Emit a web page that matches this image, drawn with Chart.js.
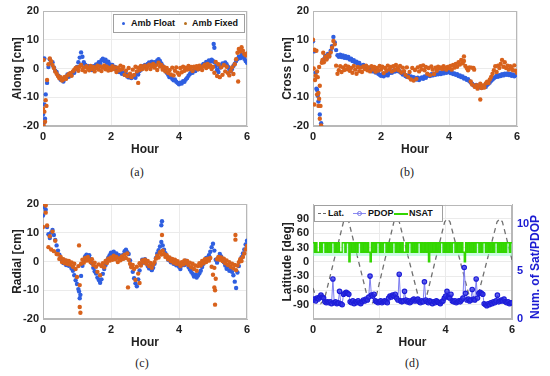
<!DOCTYPE html>
<html>
<head>
<meta charset="utf-8">
<script src="https://cdn.jsdelivr.net/npm/chart.js@4.4.0/dist/chart.umd.min.js"></script>
<style>
  body { margin: 0; background: #fff; width: 550px; height: 376px; position: relative; overflow: hidden; font-family: "Liberation Sans", Arial, sans-serif; }
  canvas { position: absolute; }
  .cap { position: absolute; font-family: "Liberation Serif", serif; font-size: 12px; color: #222; transform: translateX(-50%); }
  .leg { position: absolute; background: #fff; border: 1px solid #a0a0a0; font-weight: bold; font-size: 9px; color: #111; }
  .leg span { position: absolute; }
  .rtitle { position: absolute; font-weight: bold; font-size: 12px; color: #1a1ad2; white-space: nowrap; transform: translate(-50%, -50%) rotate(-90deg); }
</style>
</head>
<body>
<canvas id="chartA" width="270" height="161" style="left:0;top:0"></canvas>
<canvas id="chartB" width="280" height="161" style="left:270px;top:0"></canvas>
<canvas id="chartC" width="270" height="161" style="left:0;top:193px"></canvas>
<canvas id="chartD" width="280" height="161" style="left:270px;top:193px"></canvas>

<div class="leg" style="left:113px;top:14px;width:130px;height:17px;line-height:17px">
  <span style="left:8px;top:7px;width:3px;height:3px;border-radius:50%;background:#2f5fe0"></span>
  <span style="left:17px;top:0">Amb Float</span>
  <span style="left:70px;top:7px;width:3px;height:3px;border-radius:50%;background:#b8701e"></span>
  <span style="left:78px;top:0">Amb Fixed</span>
</div>

<div class="leg" style="left:314px;top:205px;width:127px;height:15px;line-height:15px">
  <span style="left:3px;top:7px;width:3px;height:1px;background:#666"></span>
  <span style="left:8px;top:7px;width:3px;height:1px;background:#666"></span>
  <span style="left:13px;top:0">Lat.</span>
  <span style="left:38px;top:7px;width:13px;height:1px;background:#8a8af2"></span>
  <span style="left:42px;top:5px;width:3px;height:3px;border:1px solid #7a7ae8;border-radius:50%"></span>
  <span style="left:53px;top:0">PDOP</span>
  <span style="left:79px;top:7px;width:14px;height:1.5px;background:#33d600"></span>
  <span style="left:94px;top:0">NSAT</span>
</div>

<div class="rtitle" style="left:535px;top:267px">Num. of Sat/PDOP</div>

<div class="cap" style="left:137px;top:165px">(a)</div>
<div class="cap" style="left:407px;top:165px">(b)</div>
<div class="cap" style="left:142px;top:356px">(c)</div>
<div class="cap" style="left:412px;top:356px">(d)</div>

<script>
// samples every 0.04 h (2.4 min), 0 .. 6 h
var STEP = 0.04;

var alongFloat = [
  -16, -12.5, -9, -5, 0.5, 3.2, 1.8, 2.2, 0.4, -0.8, -1.2, -2.4, -2.8, -3.9, -3.6, -4.5, -3.2, -3.4, -2.1, -2.9, -1.8, -2.3, -1.2, -1.5, -0.3,
  0.5, 2.2, 3.8, 5.6, 4.1, 2.2, 1.3, 0.6, 0.9, -0.2, 0.4, -0.5, 0.8, 0.3, 1.4, 1.1, 2.2, 1.8, 2.9, 3.4, 2.6, 3.1, 2.0, 2.4, 1.5,
  0.8, 1.2, 0.1, 0.5, -0.6, -0.3, -1.2, -0.9, -1.8, -1.4, -2.2, -1.9, -2.8, -3.1, -2.5, -3.3, -2.9, -2.6, -3.2, -1.8, -2.1, -0.9, -0.4, 0.3, 0.9,
  1.2, 0.8, 1.6, 2.1, 1.7, 2.4, 1.9, 2.2, 1.5, 2.8, 3.2, 2.6, 1.8, 0.9, 0.2, -0.8, -1.5, -2.2, -3.0, -2.8, -3.6, -4.1, -3.8, -4.6, -5.0,
  -5.5, -4.9, -5.2, -4.4, -4.6, -3.8, -3.3, -2.5, -1.9, -1.2, -1.5, -0.6, -0.9, 0.2, -0.3, 0.5, 0.3, 1.1, 1.6, 1.2, 2.3, 2.0, 2.8, 2.4, 3.1,
  2.6, 2.2, 0.8, -0.5, -1.2, 0.3, 1.1, 1.8, 1.2, 2.1, 1.5, 0.6, -0.4, -1.0, -0.2, 0.9, 1.7, 2.6, 3.3, 4.1, 3.6, 4.8, 4.2, 3.4, 2.6,
  2.0
];
var alongFixed = [
  -14, -15, -11, -4, 1.5, 3.5, 2.5, 1.2, 0.2, -1.0, -1.8, -2.6, -3.4, -3.0, -4.2, -3.8, -2.9, -3.6, -2.4, -2.0, -1.6, -2.5, -1.0, -0.4, 0.2,
  0.4, -0.8, 0.6, 1.2, -0.5, 0.3, -1.1, 0.8, 0.1, -0.6, 0.9, -0.2, 0.5, -1.0, 0.2, 1.0, -0.4, 0.7, -0.9, 0.3, 1.1, -0.3, 0.6, -0.7, 0.2,
  -0.5, 0.8, -0.2, 0.4, -1.2, 0.3, -0.6, 1.0, -0.3, 0.5, -2.2, -0.8, -2.6, 0.2, -1.8, -3.0, -0.4, -2.2, 0.6, -1.0, 0.3, -0.5, 0.9, -0.2, 0.5,
  1.0, -0.3, 0.6, 1.3, -0.2, 0.8, 1.6, 0.3, 1.1, -0.5, 2.0, 0.7, 1.2, -0.4, 0.5, -1.0, 0.2, -1.6, -0.6, -2.1, 0.3, -2.4, -0.8, 0.4, -1.5,
  -2.2, 0.2, -1.3, 0.6, -0.8, 0.3, -0.4, 0.9, -0.2, 0.5, -0.9, 0.6, 0.1, 0.8, -0.3, 1.0, 0.4, -0.5, 0.8, 1.3, 0.2, 1.6, 0.6, 1.1, -0.2,
  0.5, -1.5, 2.3, -2.6, 1.5, -3.0, 0.4, -2.2, 1.2, -1.0, 0.6, -1.6, -2.4, -0.8, 0.4, -1.9, 1.5, 3.2, 5.5, 6.8, 5.9, 7.4, 6.2, 5.1, 4.6,
  5.2
];
var alongFloatOut = [[0.02, -19], [0.06, -17.5], [0.04, 3.5], [5.02, 8.5], [5.04, 7.2]];
var alongFixedOut = [[0.02, -20], [0.06, -18.5], [0.02, 3.0], [0.10, -13], [2.80, -5], [5.74, -4.5]];

var crossFloat = [
  9.5, 6.0, -1.5, -7.5, -11.5, -16.0, -19.0, 2.5, 3.2, 4.4, 3.6, 5.1, 4.7, 6.2, 7.8, 11.0, 9.1, 6.4, 4.6, 4.1, 4.8, 4.0, 4.5, 3.7, 4.3,
  3.6, 4.0, 3.1, 3.4, 2.6, 2.9, 2.1, 2.4, 1.6, 1.9, 1.1, 0.8, 1.2, 0.4, 0.7, -0.1, 0.3, -0.6, -0.2, -1.0, -0.7, -1.4, -1.1, -1.8, -2.2,
  -2.5, -2.0, -2.7, -2.2, -1.9, -2.4, -1.6, -1.2, -1.5, -0.8, -1.1, -0.4, -0.9, -0.5, -1.2, -1.6, -2.1, -1.8, -2.6, -2.9, -2.4, -3.1, -2.8, -3.3, -3.0,
  -3.4, -3.8, -3.2, -4.0, -3.5, -3.1, -3.6, -2.8, -3.2, -2.5, -2.2, -2.6, -2.0, -2.4, -1.8, -2.2, -1.6, -2.0, -1.4, -1.9, -1.3, -1.7, -1.1, -1.5, -1.2,
  -1.0, -1.6, -1.3, -1.9, -1.7, -2.2, -2.0, -2.6, -2.4, -3.0, -2.8, -3.5, -3.3, -3.9, -3.7, -4.4, -4.9, -5.3, -5.8, -6.1, -5.7, -6.4, -6.0, -6.6, -6.2,
  -6.5, -6.0, -6.4, -5.7, -5.3, -4.9, -4.3, -3.8, -3.4, -3.0, -2.6, -2.9, -2.3, -2.6, -2.0, -2.4, -1.8, -2.2, -1.7, -2.3, -1.9, -2.5, -2.1, -2.7, -2.3,
  -2.0
];
var crossFixed = [
  10.0, 6.5, -2.5, -9.0, -13.0, -17.5, -19.8, 3.0, 2.2, 4.0, 3.1, 4.6, 4.2, 5.6, 7.2, 9.6, 8.4, 1.0, -1.8, -0.6, 0.8, -1.2, 0.4, -0.5, 1.0,
  -0.3, 0.6, -0.8, 0.2, -1.5, 0.9, -0.4, -1.8, 0.5, -0.9, 0.3, -1.2, 0.7, -0.2, 1.0, -0.6, 0.4, -1.0, 0.8, -0.3, 0.5, -1.1, 0.2, -0.7, 0.9,
  -0.4, 0.6, -1.6, 0.2, -0.8, 1.0, -0.3, 0.5, -1.0, 0.8, -0.5, 1.2, 0.1, -0.6, 0.9, -1.4, 0.3, -0.9, -2.2, 0.4, -3.0, -1.2, -3.8, 0.2, -4.2,
  -0.5, -3.6, 0.4, -1.0, 0.8, -0.3, 1.1, -0.6, 0.5, -1.8, 0.2, -2.3, 0.7, -0.4, -1.9, 0.3, -0.8, 0.6, 0.1, 0.4, -0.2, 0.8, 0.3, -0.4, 0.5,
  0.2, 0.9, -0.4, 1.2, 0.3, 1.6, 0.6, 2.2, 1.4, 3.0, 1.8, 2.6, 0.9, 0.2, -0.6, 0.4, -4.5, -5.6, 0.2, -6.4, -5.8, -7.0, -6.1, -5.3, -6.8,
  -5.9, -6.6, -5.2, -4.6, -5.0, -3.8, -2.9, -1.8, -0.6, 0.8, -1.2, 1.0, 0.2, 1.6, 3.0, 0.6, 2.2, 0.2, 1.0, -0.4, 0.8, 0.3, -0.6, 1.1, -0.8,
  -1.5
];
var crossFloatOut = [[0.10, -7], [0.14, -9.5]];
var crossFixedOut = [[0.02, 0], [0.04, -12.5], [0.06, -4], [0.10, 6.2], [0.12, -1], [0.14, -3], [0.16, -8.5], [0.18, 0.5],
  [0.18, -10.5], [0.20, -6], [0.22, -13], [0.26, 2], [0.30, 5.5], [4.44, 4.2], [4.66, 0.3], [4.74, -0.4], [4.92, -10.8]];

var radialFloat = [
  16, 19, 18, 12, 9.5, 8.2, 10.1, 11.0, 9.2, 7.5, 5.6, 3.8, 2.4, 1.1, 0.2, -0.5, 0.4, -1.2, -0.6, -1.5, -0.9, -2.4, -3.2, -4.8, -6.5,
  -7.8, -9.6, -12.8, -5.0, -1.5, 0.6, 1.8, 2.4, 1.6, 2.2, 0.8, -0.6, -2.2, -3.4, -4.2, -5.6, -6.4, -7.4, -6.2, -4.3, -2.6, -1.2, 0.4, 1.3, 2.2,
  3.1, 2.5, 3.4, 1.9, 2.8, 1.4, 2.2, 0.9, 1.6, 2.4, 3.6, 4.1, 3.2, 2.6, 0.4, -1.8, -3.6, -5.8, -7.6, -8.6, -6.2, -3.1, -1.0, 0.6, -0.4,
  0.8, -0.5, -1.6, -2.4, -1.8, -3.0, -2.2, -0.8, 1.2, 2.8, 3.9, 5.2, 6.8, 5.6, 4.1, 2.9, 1.8, 0.6, 1.2, -0.3, 0.5, -0.8, 0.2, -1.3, -0.6,
  -1.8, -2.6, -1.4, -0.6, -1.2, 0.3, -0.8, -1.9, -2.8, -3.6, -4.3, -5.2, -4.6, -5.6, -4.9, -4.1, -3.2, -1.9, -0.8, 0.4, 1.2, 0.6, 2.2, 3.4, 5.0,
  6.2, 3.8, 0.6, -0.4, 1.4, 2.6, 1.8, 0.9, -0.3, -1.4, -2.5, -1.6, -3.2, -2.4, -3.6, -4.8, -7.0, -9.2, -3.8, -1.6, 0.3, 1.5, 2.8, 4.2, 5.9,
  7.2
];
var radialFixed = [
  12, 20, 17, 12.5, 5.0, 8.8, 4.2, 10.4, 3.6, 7.2, 2.6, 2.5, 0.9, 1.6, -0.2, 0.8, -0.6, 0.4, -0.9, 0.2, -1.1, -0.3, -1.8, -0.8, -2.6,
  -5.4, -1.6, -8.2, -0.8, 0.6, -0.4, 1.2, 0.3, 1.6, 0.5, -0.3, 0.8, -1.2, -0.4, -1.8, -3.6, -1.0, -4.8, -1.6, -0.6, -2.0, 0.2, -0.5, 1.0, 0.3,
  1.4, 0.6, 2.0, 0.8, 1.6, -0.2, 1.1, 0.4, 1.8, 0.9, 2.4, 1.2, 2.8, 0.6, -0.8, -2.0, -1.2, -2.6, -6.4, -1.8, -4.2, -0.6, -1.4, 0.4, -0.3,
  0.6, -0.8, 0.2, -1.6, -0.5, -2.2, -1.0, -0.2, 1.0, 2.0, 1.4, 3.2, 2.4, 3.8, 2.6, 1.6, 2.2, 0.8, 1.4, 0.2, 0.9, -0.4, 0.6, -0.8, 0.1,
  -0.9, -1.6, -0.2, -1.0, 0.4, -0.6, 0.2, -1.2, -0.4, -2.0, -0.8, -2.6, -1.4, -3.2, -1.6, -0.6, -1.4, 0.2, -0.6, 0.8, -0.2, 1.0, 0.3, 1.2, -1.8,
  -4.6, -2.2, -6.0, 0.8, 1.6, 0.6, 1.4, 0.2, 1.0, -0.6, 0.4, -1.2, -0.2, -1.8, -0.8, -2.4, -1.2, -3.0, -1.4, -0.2, 0.8, 0.2, 1.6, 2.8, 4.2,
  5.4
];
var radialFloatOut = [[3.50, 14.0], [3.48, 12.6], [1.06, -10.4], [1.10, -11.6]];
var radialFixedOut = [[1.10, -17.8], [1.08, -15.8], [1.06, 5.6], [5.06, -10.0], [5.06, -15.0], [5.04, -9.0],
  [5.66, 9.2], [5.66, 7.6], [2.50, -9.0], [2.84, -7.5], [0.08, 19.5], [3.50, 9.2]];

// panel (d)
var latHours = [0, 0.12, 0.23, 0.34, 0.92, 1.0, 1.08, 1.66, 1.77, 1.88, 2.44, 2.52, 2.6, 3.2, 3.3, 3.4, 3.97, 4.05, 4.13, 4.74, 4.84, 4.94, 5.55, 5.63, 5.71, 6.0];
var latDeg = [-55, -82, -88, -80, 84, 90, 84, -80, -88, -80, 84, 90, 84, -80, -88, -80, 84, 90, 84, -80, -88, -80, 84, 90, 84, 4];

var pdop = [
  2.0, 2.1, 1.9, 2.2, 2.1, 2.3, 2.5, 2.3, 2.2, 1.8, 1.7, 1.8, 1.7, 1.8, 1.6, 4.2, 1.7, 1.8, 1.6, 1.7, 2.9, 1.6, 1.5, 2.6, 2.7,
  2.8, 2.7, 2.6, 1.8, 1.7, 1.9, 1.6, 1.8, 1.7, 1.9, 1.7, 1.6, 1.8, 2.0, 1.9, 2.1, 2.0, 2.3, 4.5, 2.5, 2.4, 2.6, 1.9, 1.8, 1.7,
  1.8, 1.9, 1.7, 1.8, 1.9, 1.8, 1.7, 2.2, 2.4, 2.3, 2.5, 2.4, 2.6, 2.2, 2.0, 4.7, 1.9, 1.8, 1.9, 2.9, 2.0, 1.8, 1.9, 1.7, 1.8,
  2.0, 2.1, 1.9, 2.0, 2.1, 1.8, 1.7, 1.9, 1.8, 3.9, 2.0, 1.8, 1.7, 1.9, 1.8, 1.6, 1.8, 1.7, 1.9, 1.8, 1.7, 1.6, 1.8, 1.9, 2.2,
  2.4, 2.9, 2.3, 2.2, 2.6, 1.9, 1.8, 1.9, 1.7, 1.8, 1.9, 1.8, 2.0, 2.2, 5.4, 2.7, 2.0, 2.1, 1.9, 2.0, 3.1, 2.1, 2.0, 4.2, 2.2,
  2.7, 2.8, 2.7, 2.6, 1.6, 1.5, 1.4, 1.6, 1.5, 1.7, 1.6, 1.8, 1.7, 1.9, 2.5, 1.8, 1.9, 2.0, 1.9, 2.1, 1.8, 1.7, 1.8, 1.6, 1.7,
  1.7
];
var nsat = [
  8, 7, 8, 7, 7, 8, 7, 8, 8, 7, 8, 7, 8, 7, 8, 8, 7, 8, 7, 8, 7, 7, 8, 8, 7,
  8, 8, 6, 8, 7, 8, 7, 8, 7, 8, 8, 7, 8, 7, 8, 7, 8, 7, 6, 8, 7, 8, 7, 8, 8,
  7, 8, 7, 8, 8, 7, 8, 7, 8, 7, 8, 8, 7, 8, 7, 8, 7, 8, 7, 7, 8, 7, 8, 8, 7,
  8, 7, 8, 7, 8, 8, 7, 8, 7, 8, 7, 8, 6, 8, 7, 8, 7, 8, 7, 8, 7, 8, 8, 7, 8,
  7, 8, 7, 8, 7, 8, 8, 7, 8, 7, 8, 7, 8, 7, 6, 8, 7, 8, 7, 8, 7, 8, 7, 8, 8,
  7, 8, 7, 8, 8, 7, 8, 7, 8, 7, 8, 7, 8, 8, 7, 8, 7, 8, 7, 8, 7, 8, 8, 7, 8,
  8
];

var FLOAT_COLOR = '#2f5fe0';
var FIXED_COLOR = '#d8621c';
var tickFont = { family: 'Liberation Sans', size: 11, weight: 'bold' };
var titleFont = { family: 'Liberation Sans', size: 12, weight: 'bold' };

function series(vals, extra) {
  var out = vals.map(function (v, i) { return { x: Math.round(i * STEP * 100) / 100, y: v }; });
  (extra || []).forEach(function (p) { out.push({ x: p[0], y: p[1] }); });
  return out;
}

var frame = {
  id: 'frame',
  beforeDatasetsDraw: function (chart) {
    var a = chart.chartArea, c = chart.ctx;
    c.save();
    c.strokeStyle = '#b8b8b8';
    c.lineWidth = 1;
    c.strokeRect(Math.round(a.left) + 0.5, Math.round(a.top) + 0.5, Math.round(a.right - a.left) - 1, Math.round(a.bottom - a.top) - 1);
    c.restore();
  }
};

function xAxis() {
  return {
    type: 'linear', min: 0, max: 6,
    ticks: { stepSize: 2, padding: 4, color: '#222', font: tickFont, maxRotation: 0 },
    grid: { color: '#ebebeb', drawTicks: false },
    border: { color: '#b8b8b8' },
    title: { display: true, text: 'Hour', color: '#222', font: titleFont, padding: { top: 0, bottom: 4 } },
    afterFit: function (s) { s.height = 35; }
  };
}

function yAxis(title) {
  return {
    min: -20, max: 20,
    ticks: { stepSize: 10, padding: 4, color: '#222', font: tickFont },
    grid: { color: '#ebebeb', drawTicks: false },
    border: { color: '#b8b8b8' },
    title: { display: true, text: title, color: '#222', font: titleFont, padding: { top: 10, bottom: 0 } },
    afterFit: function (s) { s.width = 43; }
  };
}

function scatterPanel(id, title, floatVals, floatOut, fixedVals, fixedOut, right) {
  return new Chart(document.getElementById(id), {
    type: 'scatter',
    data: {
      datasets: [
        { label: 'Amb Float', data: series(floatVals, floatOut), backgroundColor: FLOAT_COLOR, borderColor: FLOAT_COLOR,
          pointRadius: 2.2, pointBorderWidth: 0, order: 2 },
        { label: 'Amb Fixed', data: series(fixedVals, fixedOut), backgroundColor: FIXED_COLOR, borderColor: FIXED_COLOR,
          pointRadius: 2.2, pointBorderWidth: 0, order: 1 }
      ]
    },
    options: {
      responsive: false, animation: false,
      layout: { padding: { top: 11, right: right, left: 0, bottom: 0 } },
      plugins: { legend: { display: false }, tooltip: { enabled: false } },
      scales: { x: xAxis(), y: yAxis(title) }
    },
    plugins: [frame]
  });
}

scatterPanel('chartA', 'Along [cm]', alongFloat, alongFloatOut, alongFixed, alongFixedOut, 23);
scatterPanel('chartB', 'Cross [cm]', crossFloat, crossFloatOut, crossFixed, crossFixedOut, 33);
scatterPanel('chartC', 'Radial [cm]', radialFloat, radialFloatOut, radialFixed, radialFixedOut, 23);

var latLeft = yAxis('Latitude [deg]');
latLeft.min = -120;
latLeft.max = 120;
latLeft.ticks = { padding: 4, color: '#222', font: tickFont };
latLeft.afterBuildTicks = function (s) {
  s.ticks = [-90, -60, -30, 0, 30, 60, 90].map(function (v) { return { value: v }; });
};

new Chart(document.getElementById('chartD'), {
  type: 'line',
  data: {
    datasets: [
      { label: 'Lat.', data: latHours.map(function (h, i) { return { x: h, y: latDeg[i] }; }), yAxisID: 'y',
        borderColor: '#707070', borderWidth: 1.3, borderDash: [5, 4], pointRadius: 0, order: 3 },
      { label: 'PDOP', data: series(pdop), yAxisID: 'y2', borderColor: '#7d7df0', borderWidth: 1,
        pointRadius: 2.2, pointBorderWidth: 1.2, pointBorderColor: '#1e1ed8', pointBackgroundColor: 'rgba(50,50,230,0.75)', order: 1 },
      { label: 'NSAT', data: series(nsat), yAxisID: 'y2', stepped: true, borderColor: '#33d600', borderWidth: 1.3,
        pointRadius: 0, fill: { value: 6.6 }, backgroundColor: 'rgba(150,250,200,0.5)', order: 2 }
    ]
  },
  options: {
    responsive: false, animation: false,
    layout: { padding: { top: 11, right: 0, left: 0, bottom: 0 } },
    plugins: { legend: { display: false }, tooltip: { enabled: false } },
    scales: {
      x: xAxis(),
      y: latLeft,
      y2: {
        position: 'right', min: 0, max: 12,
        ticks: { padding: 5, color: '#1a1ad2', font: tickFont },
        afterBuildTicks: function (s) { s.ticks = [0, 5, 10].map(function (v) { return { value: v }; }); },
        grid: { drawOnChartArea: false, drawTicks: false },
        border: { color: '#b8b8b8' },
        afterFit: function (s) { s.width = 38; }
      }
    }
  },
  plugins: [frame]
});
</script>
</body>
</html>
